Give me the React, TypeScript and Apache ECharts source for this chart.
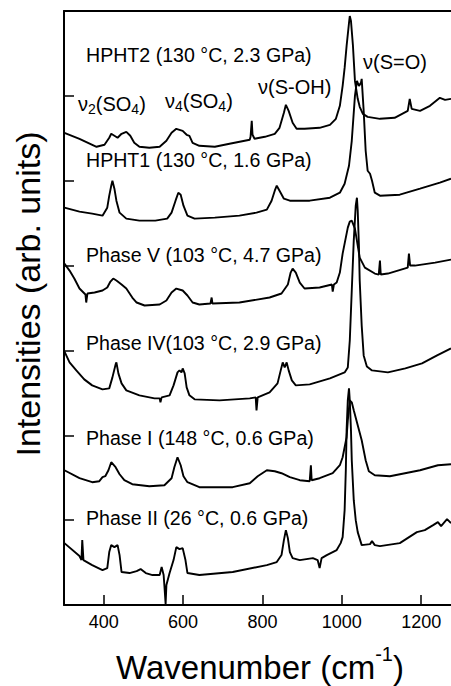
import React, { useEffect, useRef } from 'react';
import * as echarts from 'echarts';

// Raman spectra: [wavenumber (cm-1), intensity (arb. units, stacked offset)]
const hpht2: [number, number][] = [[301,473],[339,467],[382,459],[402,461],[414,468],[419,472],[427,470],[435,468],[445,472],[457,474],[467,470],[477,463],[490,459],[515,458],[541,459],[558,465],[571,473],[583,477],[599,475],[609,471],[616,470],[624,463],[641,460],[680,459],[717,462],[768,466],[770,469],[773,485],[775,471],[780,467],[806,469],[831,472],[843,478],[854,493],[859,501],[866,495],[876,483],[886,477],[906,477],[944,478],[970,481],[985,487],[995,500],[1002,520],[1007,538],[1012,560],[1018,583],[1020,590],[1023,585],[1028,560],[1033,525],[1040,507],[1045,499],[1053,492],[1065,489],[1096,487],[1133,488],[1166,495],[1171,507],[1176,497],[1197,495],[1222,500],[1247,508],[1260,506],[1275,507]];
const hpht1: [number, number][] = [[301,398],[339,394],[371,392],[397,390],[409,398],[414,410],[419,420],[422,425],[427,417],[432,405],[440,393],[457,387],[490,385],[530,385],[560,387],[571,393],[581,405],[588,413],[594,411],[601,400],[611,390],[629,387],[680,388],[742,390],[785,393],[811,396],[823,405],[831,415],[836,420],[843,415],[854,407],[869,405],[919,405],[970,408],[995,413],[1007,422],[1018,440],[1025,465],[1033,510],[1038,525],[1043,520],[1048,523],[1050,527],[1055,495],[1060,455],[1065,435],[1071,432],[1076,425],[1083,413],[1096,410],[1146,411],[1197,417],[1247,423],[1275,427]];
const phaseV: [number, number][] = [[301,342],[314,335],[326,327],[339,317],[354,311],[356,303],[359,312],[377,313],[397,315],[409,318],[417,324],[424,327],[432,325],[445,321],[457,317],[472,308],[483,303],[503,300],[541,301],[558,305],[571,313],[583,317],[599,315],[611,310],[624,303],[641,301],[669,302],[672,308],[674,302],[742,303],[818,308],[848,312],[864,321],[871,333],[876,337],[884,333],[894,323],[906,317],[944,318],[975,321],[977,314],[980,321],[987,323],[995,333],[1002,352],[1015,378],[1020,384],[1025,385],[1033,377],[1040,360],[1045,348],[1058,338],[1083,332],[1093,331],[1096,345],[1098,331],[1116,332],[1166,338],[1169,352],[1172,340],[1184,340],[1235,343],[1275,346]];
const phaseIV: [number, number][] = [[301,254],[314,243],[331,235],[351,226],[371,220],[397,216],[414,217],[422,228],[430,241],[432,243],[437,232],[445,222],[457,215],[490,210],[528,207],[541,207],[543,203],[546,208],[566,210],[576,220],[586,233],[591,235],[596,233],[599,237],[604,232],[609,218],[616,210],[629,206],[692,205],[768,207],[783,208],[785,195],[788,208],[818,213],[838,222],[846,235],[851,243],[856,238],[861,243],[866,235],[874,225],[884,220],[919,221],[970,227],[1007,233],[1015,238],[1020,265],[1025,315],[1030,365],[1035,400],[1038,408],[1040,395],[1043,360],[1045,325],[1050,280],[1055,250],[1063,239],[1076,235],[1116,233],[1160,237],[1202,242],[1240,250],[1275,257]];
const phaseI: [number, number][] = [[301,135],[339,127],[371,123],[389,124],[397,128],[404,129],[412,135],[419,143],[430,138],[440,131],[452,125],[472,121],[515,119],[553,120],[571,127],[578,138],[586,148],[594,140],[601,129],[611,123],[641,118],[725,118],[768,122],[788,129],[811,135],[831,134],[848,132],[869,128],[894,125],[919,124],[922,140],[924,125],[944,127],[977,132],[995,140],[1002,148],[1012,168],[1015,185],[1020,205],[1025,203],[1030,195],[1040,180],[1050,165],[1060,145],[1068,134],[1083,130],[1121,129],[1159,132],[1197,135],[1242,140],[1275,141]];
const phaseII: [number, number][] = [[301,62],[339,49],[344,45],[346,65],[349,45],[371,40],[397,35],[409,37],[414,53],[419,60],[427,58],[435,60],[440,50],[445,33],[465,32],[483,34],[493,36],[506,32],[523,30],[541,30],[546,38],[551,30],[553,19],[556,1],[558,20],[566,32],[576,45],[583,58],[591,56],[599,57],[606,45],[611,32],[641,30],[725,33],[811,40],[836,43],[848,50],[854,65],[859,75],[864,67],[869,53],[876,47],[894,45],[927,47],[939,45],[944,37],[949,47],[962,50],[987,55],[997,62],[1002,68],[1007,95],[1010,135],[1012,175],[1015,205],[1018,217],[1020,205],[1023,175],[1025,145],[1030,105],[1035,85],[1040,73],[1050,60],[1071,61],[1076,64],[1083,60],[1096,59],[1146,62],[1189,73],[1209,75],[1230,80],[1242,83],[1250,79],[1265,86],[1275,82]];

const seriesNames = ['HPHT2', 'HPHT1', 'Phase V', 'Phase IV', 'Phase I', 'Phase II'];
const seriesData = [hpht2, hpht1, phaseV, phaseIV, phaseI, phaseII];
const spectrumLabels = [
  'HPHT2 (130 °C, 2.3 GPa)',
  'HPHT1 (130 °C, 1.6 GPa)',
  'Phase V (103 °C, 4.7 GPa)',
  'Phase IV(103 °C, 2.9 GPa)',
  'Phase I (148 °C, 0.6 GPa)',
  'Phase II (26 °C, 0.6 GPa)',
];
const bandLabels = ['{n|ν}{s|2}{n|(SO}{s|4}{n|)}', '{n|ν}{s|4}{n|(SO}{s|4}{n|)}', '{n|ν(S-OH)}', '{n|ν(S=O)}'];
const xTicks = [400, 600, 800, 1000, 1200];
const X_MIN = 300;
const X_MAX = 1275;
const Y_MAX = 595;
const Y_STEP = 85;

const FONT = '"Liberation Sans", Arial, Helvetica, sans-serif';

const labelPos = [
  [86, 55], [86, 160], [86, 255], [86, 343], [86, 438], [86, 518],
];
const bandPos = [
  [78, 104], [165, 101], [258, 87], [363, 62],
];

export default function App() {
  const ref = useRef<HTMLDivElement>(null);
  useEffect(() => {
    document.body.style.margin = '0';
    const chart = echarts.init(ref.current as HTMLDivElement, null, { renderer: 'svg' });
    const textEls: any[] = [];
    spectrumLabels.forEach((t, i) => {
      textEls.push({
        type: 'text',
        x: labelPos[i][0],
        y: labelPos[i][1],
        silent: true,
        style: {
          text: t,
          fontSize: 19.6,
          fontFamily: FONT,
          fill: '#000',
          align: 'left',
          verticalAlign: 'middle',
          textAlign: 'left',
          textVerticalAlign: 'middle',
        },
      });
    });
    bandLabels.forEach((t, i) => {
      textEls.push({
        type: 'text',
        x: bandPos[i][0],
        y: bandPos[i][1],
        silent: true,
        style: {
          text: t,
          fontFamily: FONT,
          fill: '#000',
          align: 'left',
          verticalAlign: 'middle',
          textAlign: 'left',
          textVerticalAlign: 'middle',
          rich: {
            n: { fontSize: 20, fontFamily: FONT, fill: '#000', color: '#000', lineHeight: 24, verticalAlign: 'middle' },
            s: { fontSize: 14, fontFamily: FONT, fill: '#000', color: '#000', lineHeight: 14, verticalAlign: 'bottom' },
          },
        },
      });
    });
    // axis titles
    textEls.push({
      type: 'text',
      x: 28,
      y: 294,
      rotation: Math.PI / 2,
      silent: true,
      style: {
        text: 'Intensities (arb. units)',
        fontSize: 34,
        fontFamily: FONT,
        fill: '#000',
        align: 'center',
        verticalAlign: 'middle',
        textAlign: 'center',
        textVerticalAlign: 'middle',
      },
    });
    textEls.push({
      type: 'text',
      x: 260,
      y: 664,
      silent: true,
      style: {
        text: '{a|Wavenumber (cm}{b|-1}{a|)}',
        fontFamily: FONT,
        fill: '#000',
        align: 'center',
        verticalAlign: 'middle',
        textAlign: 'center',
        textVerticalAlign: 'middle',
        rich: {
          a: { fontSize: 33, fontFamily: FONT, fill: '#000', color: '#000', lineHeight: 40, verticalAlign: 'bottom' },
          b: { fontSize: 20, fontFamily: FONT, fill: '#000', color: '#000', lineHeight: 20, verticalAlign: 'top' },
        },
      },
    });

    chart.setOption({
      animation: false,
      backgroundColor: '#fff',
      grid: { left: 64, right: 0, top: 11, bottom: 81, containLabel: false },
      xAxis: [
        {
          type: 'value',
          min: X_MIN,
          max: X_MAX,
          position: 'bottom',
          axisLine: { show: true, lineStyle: { color: '#000', width: 2 } },
          axisTick: { show: true, inside: true, length: 10, customValues: xTicks, lineStyle: { color: '#000', width: 1.5 } },
          axisLabel: {
            show: true,
            customValues: xTicks,
            fontSize: 18,
            color: '#000',
            fontFamily: FONT,
            margin: 8,
            formatter: (v: number) => String(v),
          },
          splitLine: { show: false },
        },
        {
          type: 'value',
          min: X_MIN,
          max: X_MAX,
          position: 'top',
          axisLine: { show: true, lineStyle: { color: '#000', width: 2 } },
          axisTick: { show: false },
          axisLabel: { show: false },
          splitLine: { show: false },
        },
      ],
      yAxis: {
        type: 'value',
        min: 0,
        max: Y_MAX,
        interval: Y_STEP,
        axisLine: { show: true, lineStyle: { color: '#000', width: 2 } },
        axisTick: { show: true, inside: true, length: 10, lineStyle: { color: '#000', width: 1.5 } },
        axisLabel: { show: false },
        splitLine: { show: false },
      },
      series: seriesData.map((d, i) => ({
        name: seriesNames[i],
        type: 'line',
        data: d,
        xAxisIndex: 0,
        showSymbol: false,
        symbol: 'none',
        silent: true,
        lineStyle: { color: '#000', width: 1.9 },
        z: 2,
      })),
      graphic: textEls,
    });
    return () => chart.dispose();
  }, []);
  return <div ref={ref} style={{ width: 451, height: 686 }} />;
}
